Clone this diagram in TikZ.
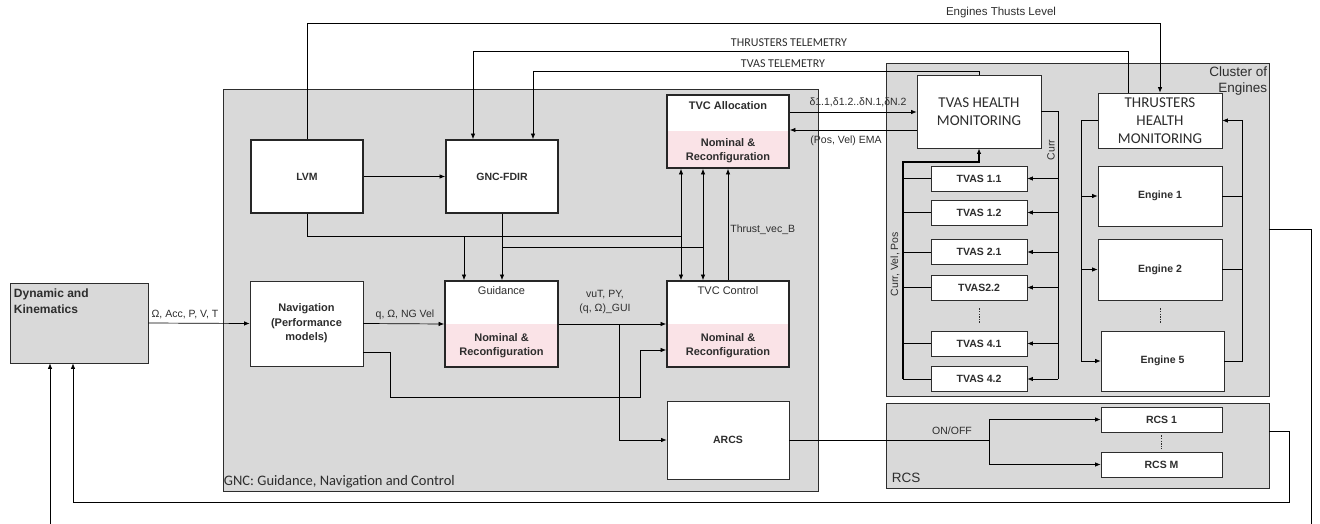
\documentclass[tikz,border=0pt]{standalone}
\usepackage{fontspec}
\setmainfont{Liberation Sans}
\newfontfamily\calibfont{Carlito}
\usepackage{tikz}
\usetikzlibrary{positioning, calc}
\usetikzlibrary{arrows.meta}

\begin{document}
\begin{tikzpicture}[x=1pt, y=-1pt, inner sep=0pt, align=center, >={Latex[length=5.5pt, width=4.5pt]}, line width=0.7pt,
    panel/.style={draw=inkgray, fill=panelgray, line width=0.8pt},
    blk/.style={draw=inkgray, fill=white, line width=0.8pt, text=inkgray, font=\bfseries\fontsize{10.5}{13}\selectfont},
    thickblk/.style={blk, draw=black!85, line width=1.8pt},
    splitblk/.style={thickblk, path picture={\fill[nompink] (path picture bounding box.west) rectangle (path picture bounding box.south east);}},
    lbl/.style={text=inkgray, font=\fontsize{10.5}{12}\selectfont},
    telem/.style={text=inkgray, font=\calibfont\fontsize{12}{14}\selectfont},
    hmtext/.style={text=inkgray, font=\calibfont\fontsize{15}{18}\selectfont},
    dotline/.style={draw=inkgray, line width=0.8pt, dash pattern=on 1.3pt off 1.3pt}]
        % Define colors
        \definecolor{panelgray}{RGB}{217,217,217}
        \definecolor{nompink}{RGB}{250,227,231}
        \definecolor{inkgray}{RGB}{45,45,45}

        \useasboundingbox (0,0) rectangle (1320,524);

        % Panels
        \node[panel, minimum width=595pt, minimum height=402pt] (gnc) at (520.5,290) {};
        \node[panel, minimum width=383pt, minimum height=333pt] (cluster) at (1077.5,229.5) {};
        \node[panel, minimum width=383pt, minimum height=85pt] (rcsbox) at (1077.5,445.5) {};
        \node[panel, minimum width=138pt, minimum height=80pt] (dyn) at (79,323) {};

        \node[anchor=north west, align=left, text=inkgray, font=\bfseries\fontsize{12}{15.5}\selectfont] (dyntxt) at ([shift={(4,6)}]dyn.north west) {Dynamic and\\Kinematics};
        \node[anchor=south west, align=left, text=inkgray, font=\calibfont\fontsize{14.5}{16}\selectfont] (gnctxt) at ([shift={(1,-3)}]gnc.south west) {GNC: Guidance, Navigation and Control};
        \node[anchor=north east, align=right, text=inkgray, font=\fontsize{13.5}{15.5}\selectfont] (clustertxt) at ([shift={(-2,4)}]cluster.north east) {Cluster of\\Engines};
        \node[anchor=south west, text=inkgray, font=\fontsize{13.5}{15}\selectfont] (rcstxt) at ([shift={(6,-5)}]rcsbox.south west) {RCS};

        % Nodes
        \node[blk, minimum width=113pt, minimum height=85pt, font=\bfseries\fontsize{11}{14.5}\selectfont] (nav) at (306.5,323.5) {Navigation\\(Performance\\models)};
        \node[thickblk, minimum width=112pt, minimum height=73pt] (lvm) at (307,176.5) {LVM};
        \node[thickblk, minimum width=112pt, minimum height=73pt] (fdir) at (502,176.5) {GNC-FDIR};
        \node[splitblk, minimum width=113pt, minimum height=86pt] (guid) at (501.5,324) {};
        \node[splitblk, minimum width=122pt, minimum height=86pt] (tvcc) at (728,324) {};
        \node[splitblk, minimum width=122pt, minimum height=73pt] (tvca) at (728,131.5) {};
        \node[blk, minimum width=122pt, minimum height=78pt] (arcs) at (728,440) {ARCS};

        \node[lbl, below=6pt of guid.north, font=\fontsize{11}{12}\selectfont] (guidtitle) {Guidance};
        \node[lbl, below=6pt of tvcc.north, font=\fontsize{11}{12}\selectfont] (tvcctitle) {TVC Control};
        \node[lbl, below=7pt of tvca.north, font=\bfseries\fontsize{11}{12}\selectfont] (tvcatitle) {TVC Allocation};
        \foreach \b in {guid, tvcc, tvca} {
            \node[text=inkgray, font=\bfseries\fontsize{11}{14}\selectfont] (\b nom) at ($(\b.center)!0.5!(\b.south)$) {Nominal \&\\Reconfiguration};
        }

        \node[blk, minimum width=124pt, minimum height=73pt, hmtext] (tvashm) at (979,111.5) {TVAS HEALTH\\MONITORING};
        \node[blk, minimum width=124pt, minimum height=55pt, hmtext] (thm) at (1160,120.5) {THRUSTERS\\HEALTH\\MONITORING};

        \foreach \n/\lab/\yy in {t11/TVAS 1.1/178.5, t12/TVAS 1.2/212.5, t21/TVAS 2.1/252, t22/TVAS2.2/287.5, t41/TVAS 4.1/343.5, t42/TVAS 4.2/379} {
            \node[blk, minimum width=96pt, minimum height=25pt] (\n) at (979,\yy) {\lab};
        }
        \node[blk, minimum width=124pt, minimum height=60pt] (eng1) at (1160,196) {Engine 1};
        \node[blk, minimum width=124pt, minimum height=61pt] (eng2) at (1160,269.5) {Engine 2};
        \node[blk, minimum width=123pt, minimum height=60pt] (eng5) at (1162.5,361) {Engine 5};
        \node[blk, minimum width=121pt, minimum height=25pt] (rcs1) at (1161.5,419.5) {RCS 1};
        \node[blk, minimum width=121pt, minimum height=25pt] (rcsm) at (1161.5,464.5) {RCS M};

        \draw[dotline] ([yshift=-8pt]t22.south) -- ([yshift=8pt]t41.north);
        \draw[dotline] ([yshift=-8pt]eng2.south) -- ([yshift=8pt]eng2.south |- eng5.north);
        \draw[dotline] ([yshift=-3pt]rcs1.south) -- ([yshift=3pt]rcsm.north);

        % Rails and taps
        \coordinate (toprail) at (0,23);
        \coordinate (thrrail) at (0,51);
        \coordinate (tvasrail) at (0,71);
        \coordinate (railL) at (0,236);
        \coordinate (railF) at (0,247);
        \coordinate (thmtap) at ([xshift=-32pt]thm.north);
        \coordinate (fdirin1) at ([xshift=-29pt]fdir.north);
        \coordinate (fdirin2) at ([xshift=31pt]fdir.north);
        \coordinate (guidin1) at ([xshift=-37.5pt]guid.north);
        \coordinate (tapA) at ([xshift=-47pt]tvca.south);
        \coordinate (tapB) at ([xshift=-25pt]tvca.south);
        \coordinate (tapC) at (tvca.south);
        \coordinate (cbus) at (1058,0);
        \coordinate (vbus) at (903,162);
        \coordinate (ebusL) at (1081,0);
        \coordinate (ebusR) at (1242,0);
        \coordinate (onoff) at (989,440);
        \coordinate (gjunc) at ([xshift=60pt]guid.east);
        \coordinate (rimA) at (1311,526);
        \coordinate (rimB) at (1289,502);

        % Edges
        \draw[->] (dyn.east) -- (nav.west);
        \draw[->] (nav.east) -- (guid.west);
        \draw[->] ([yshift=-28.5pt]nav.east) -- ++(27,0) -- ++(0,45) -- ++(250,0) |- ([yshift=-26pt]tvcc.west);
        \draw[->] (guid.east) -- (tvcc.west);
        \draw[->] (gjunc) |- (arcs.west);
        \draw[->] (lvm.east) -- (fdir.west);
        \draw (lvm.south) |- (tapA |- railL);
        \draw[->] (guidin1 |- railL) -- (guidin1);
        \draw[->] (fdir.south) -- (fdir.south |- guid.north);
        \draw (fdir.south |- railF) -- (tapB |- railF);
        \draw[<->] (tapA) -- (tapA |- tvcc.north);
        \draw[<->] (tapB) -- (tapB |- tvcc.north);
        \draw[->] (tapC |- tvcc.north) -- (tapC);

        \draw[->] (lvm.north) -- (lvm.north |- toprail) -| (thm.north);
        \draw[->] (thmtap) -- (thmtap |- thrrail) -| (fdirin1);
        \draw[->] (tvashm.north) -- (tvashm.north |- tvasrail) -| (fdirin2);

        \draw[->] ([yshift=19.5pt]tvca.east) coordinate (dout) -- (dout -| tvashm.west);
        \draw[->] ([yshift=-18.5pt]tvashm.west) coordinate (pin) -- (pin -| tvca.east);

        \draw (tvashm.east) -| (cbus |- t42.east);
        \foreach \t in {t11,t12,t21,t22,t41,t42} {
            \draw[->] (cbus |- \t.east) -- (\t.east);
            \draw (\t.west) -- (vbus |- \t.west);
        }
        \draw[->, line width=1.5pt] (vbus |- t42.west) -- (vbus) -| (tvashm.south);

        \draw (thm.west) -| (ebusL |- eng5.west);
        \foreach \e in {eng1,eng2,eng5} {
            \draw[->] (ebusL |- \e.west) -- (\e.west);
        }
        \draw (eng1.east) -- (ebusR |- eng1.east);
        \draw (eng2.east) -- (ebusR |- eng2.east);
        \draw[->] (eng5.east) -- (ebusR |- eng5.east) |- (thm.east);

        \draw (arcs.east) -- (onoff);
        \draw[->] (onoff) |- (rcs1.west);
        \draw[->] (onoff) |- (rcsm.west);

        \draw[->] (cluster.east) -| (rimA) -| ([xshift=-29pt]dyn.south);
        \draw[->] ([yshift=14.5pt]rcsbox.east) -| (rimB) -| ([xshift=-6pt]dyn.south);

        % Labels
        \node[lbl] (l1) at (185,315) {Ω, Acc, P, V, T};
        \node[lbl] (l2) at (405,315) {q, Ω, NG Vel};
        \node[lbl, font=\fontsize{10.5}{14}\selectfont] (l3) at (605,302) {vuT, PY,\\(q, Ω)\_GUI};
        \node[lbl, anchor=west] (l4) at (730,230) {Thrust\_vec\_B};
        \node[lbl] (l5) at (858,102) {δ1.1,δ1.2..δN.1,δN.2};
        \node[lbl] (l6) at (846,141) {(Pos, Vel) EMA};
        \node[lbl, rotate=90] (l7) at (1051,150) {Curr};
        \node[lbl, rotate=90] (l8) at (895,264) {Curr, Vel, Pos};
        \node[lbl] (l9) at (952,431) {ON/OFF};
        \node[lbl, font=\fontsize{11.5}{13}\selectfont] (l10) at (1001,13) {Engines Thusts Level};
        \node[telem] (l11) at (789,43) {THRUSTERS TELEMETRY};
        \node[telem] (l12) at (783,64) {TVAS TELEMETRY};
    \end{tikzpicture}
\end{document}
